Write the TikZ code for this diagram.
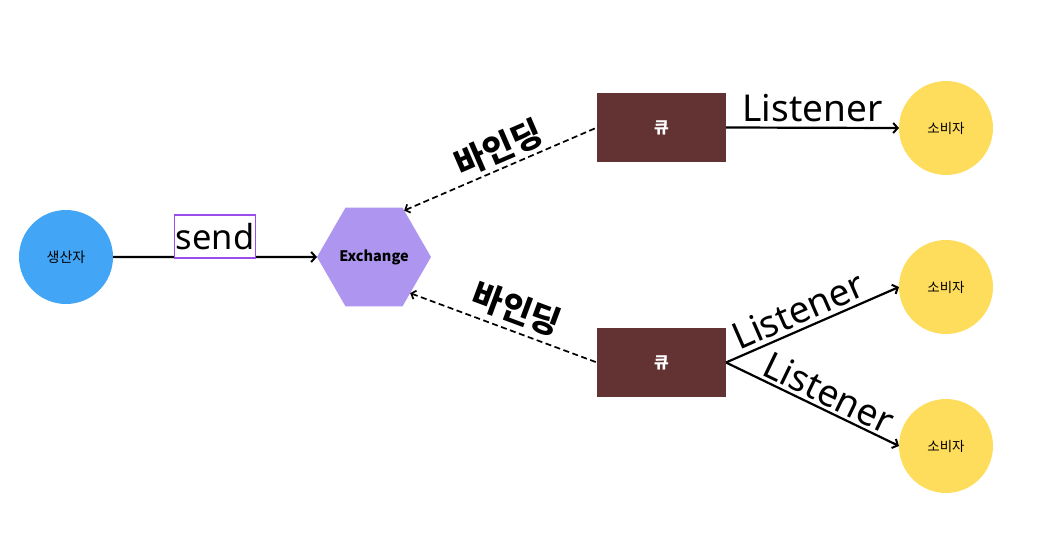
\documentclass[tikz,border=0pt]{standalone}
\usepackage{fontspec}
\setmainfont{Noto Sans}
\newfontfamily\kr{Noto Sans CJK KR}
\usetikzlibrary{arrows.meta,shapes.geometric}
\definecolor{prodblue}{HTML}{42A5F5}
\definecolor{exlav}{HTML}{AE96F0}
\definecolor{qbrown}{HTML}{633333}
\definecolor{consyel}{HTML}{FFDD5C}
\definecolor{sendbox}{HTML}{9B4DEB}
\tikzset{
  actor/.style={circle,minimum size=94pt,inner sep=0pt,outer sep=0pt},
  prod/.style={actor,fill=prodblue,font=\kr\fontsize{14}{16}\selectfont},
  cons/.style={actor,fill=consyel,font=\kr\fontsize{13.5}{16}\selectfont},
  exch/.style={regular polygon,regular polygon sides=6,minimum size=114pt,inner sep=0pt,outer sep=0pt,fill=exlav,font=\kr\bfseries\fontsize{14.5}{16}\selectfont},
  queue/.style={rectangle,minimum width=129pt,minimum height=69pt,inner sep=0pt,outer sep=0pt,fill=qbrown,text=white,font=\kr\bfseries\fontsize{16}{18}\selectfont},
  flow/.style={line width=2.2pt,-{Straight Barb[length=4.5pt,width=10pt,line width=2pt]}},
  bind/.style={line width=1.7pt,dash pattern=on 6pt off 3.5pt,{Straight Barb[length=4pt,width=9pt,line width=1.7pt]}-},
  lbl/.style={font=\fontsize{37}{44}\selectfont,inner sep=0pt},
  bindlbl/.style={font=\kr\bfseries\fontsize{33}{38}\selectfont,inner sep=0pt},
  sendlbl/.style={draw=sendbox,line width=1.6pt,fill=white,minimum width=81pt,minimum height=43pt,inner sep=0pt,font=\fontsize{34.5}{40}\selectfont}
}
\begin{document}
\begin{tikzpicture}[x=1pt,y=-1pt]
\useasboundingbox (0,0) rectangle (1042,546);
\node[prod] (p) at (66,257) {생산자};
\node[exch] (ex) at (374,257) {Exchange};
\node[queue] (q1) at (661.5,127.5) {큐};
\node[queue] (q2) at (661.5,362.5) {큐};
\node[cons] (c1) at (946,128) {소비자};
\node[cons] (c2) at (946,287) {소비자};
\node[cons] (c3) at (946,446) {소비자};

\draw[flow] (p.east) -- node[sendlbl,anchor=south,yshift=-1.5pt] (sl) {send} (ex.west);
\draw[flow] (q1.east) -- node[lbl,above=5pt] (l1) {Listener} (c1.west);
\draw[flow] (q2.east) -- node[lbl,sloped,above=4pt,pos=0.46] (l2) {Listener} (c2.west);
\draw[flow] (q2.east) -- node[lbl,sloped,above=3pt,pos=0.55] (l3) {Listener} (c3.west);
\draw[bind] (ex.57) -- node[bindlbl,sloped,above=4pt,pos=0.53] (b1) {바인딩} (q1.west);
\draw[bind] (ex.-45) -- node[bindlbl,sloped,above=6pt,pos=0.53] (b2) {바인딩} (q2.west);
\end{tikzpicture}
\end{document}
